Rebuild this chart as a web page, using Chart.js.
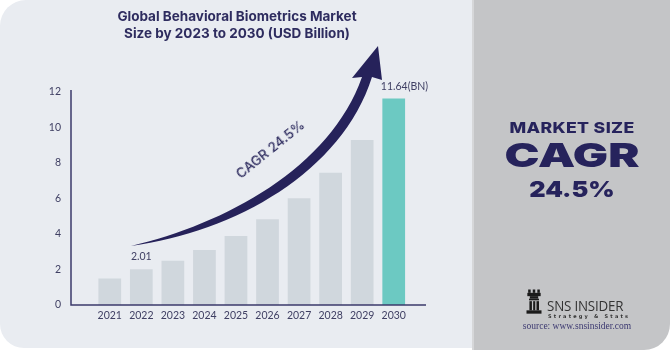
<!DOCTYPE html>
<html>
<head>
<meta charset="utf-8">
<script src="https://cdn.jsdelivr.net/npm/chart.js@4"></script>
<style>
  html, body { margin: 0; padding: 0; background: #ffffff; }
  #wrap { position: relative; width: 670px; height: 350px; overflow: hidden; background: #ffffff; }
  #leftPanel { position: absolute; left: 0; top: 0; width: 472px; height: 348px; background: #e9ecf1; border-radius: 26px 0 0 24px; }
  #divider { position: absolute; left: 472px; top: 0; width: 2px; height: 350px; background: #d6d7d9; }
  #rightPanel { position: absolute; left: 474px; top: 0; width: 196px; height: 350px; background: #c4c5c7; border-radius: 0 0 26px 0; }
  #chart { position: absolute; left: 0; top: 0; }
  .title { position: absolute; left: 0; width: 474px; text-align: center; font-family: Inter, sans-serif; font-weight: 700; font-size: 13.5px; color: #2e2c5f; line-height: 17px; top: 8px; }
  .side { position: absolute; left: 474px; width: 196px; text-align: center; font-family: Inter, sans-serif; color: #26235c; white-space: nowrap; }
  #mk { top: 118px; font-size: 15px; font-weight: 800; letter-spacing: 0.3px; transform: scaleX(1.18); }
  #cg { top: 135px; font-size: 33px; font-weight: 900; line-height: 40px; transform: scaleX(1.42); }
  #pc { top: 176px; font-size: 22px; font-weight: 900; transform: scaleX(1.15); }
  #cagrText { position: absolute; left: 220px; top: 141px; width: 100px; text-align: center; font-family: Inter, sans-serif; font-size: 13.5px; font-weight: 500; color: #2e2c5f; transform: rotate(-39deg); white-space: nowrap; }
  #logoName { position: absolute; left: 547px; top: 296px; font-family: "Open Sans", sans-serif; font-size: 14.5px; color: #333333; letter-spacing: -0.2px; transform: scaleX(0.92); transform-origin: left; }
  #logoSub { position: absolute; left: 548px; top: 313px; font-family: "DejaVu Sans", sans-serif; font-size: 5px; font-weight: 700; color: #333333; letter-spacing: 2.2px; }
  #source { position: absolute; left: 474px; width: 196px; top: 321px; text-align: center; font-family: "Liberation Serif", serif; font-size: 9.5px; color: #3b3870; padding-left: 10px; box-sizing: border-box; }
  #rook { position: absolute; left: 524px; top: 288px; }
</style>
</head>
<body>
<div id="wrap">
  <div id="leftPanel"></div>
  <div id="divider"></div>
  <div id="rightPanel"></div>
  <canvas id="chart" width="670" height="350"></canvas>
  <div class="title">Global Behavioral Biometrics Market<br>Size by 2023 to 2030 (USD Billion)</div>
  <div id="cagrText">CAGR 24.5%</div>
  <div class="side" id="mk">MARKET SIZE</div>
  <div class="side" id="cg">CAGR</div>
  <div class="side" id="pc">24.5%</div>
  <svg id="rook" width="20" height="28" viewBox="0 0 24 30">
    <rect x="5" y="0" width="3" height="4" fill="#1b1b1b"/>
    <rect x="10.5" y="0" width="3" height="4" fill="#1b1b1b"/>
    <rect x="16" y="0" width="3" height="4" fill="#1b1b1b"/>
    <rect x="4" y="4" width="16" height="4" fill="#1b1b1b"/>
    <rect x="7" y="8" width="10" height="3" fill="#1b1b1b"/>
    <rect x="6" y="11" width="12" height="2" fill="#1b1b1b"/>
    <rect x="6.5" y="14" width="3" height="11" fill="#1b1b1b"/>
    <rect x="11" y="14" width="2.5" height="11" fill="#1b1b1b"/>
    <rect x="15" y="14" width="3" height="11" fill="#1b1b1b"/>
    <rect x="3" y="25" width="18" height="4" fill="#1b1b1b"/>
  </svg>
  <div id="logoName">SNS INSIDER</div>
  <div id="logoSub">Strategy &amp; Stats</div>
  <div id="source">source: www.snsinsider.com</div>
</div>
<script>
// data
var years = ['2021', '2022', '2023', '2024', '2025', '2026', '2027', '2028', '2029', '2030'];
var marketSize = [1.50, 2.01, 2.50, 3.10, 3.89, 4.83, 6.01, 7.45, 9.30, 11.64];
var valueLabels = ['', '2.01', '', '', '', '', '', '', '', '11.64(BN)'];
var yTicks = [0, 2, 4, 6, 8, 10, 12];

var grayBar = '#d0d7dd';
var tealBar = '#6cc9c2';

// axis lines, value labels and the growth arrow
var decorPlugin = {
    id: 'decor',
    afterDatasetsDraw: function(chart) {
        var ctx = chart.ctx;
        var area = chart.chartArea;
        var y = chart.scales.y;
        var zero = y.getPixelForValue(0);
        var left = area.left - 23;

        ctx.save();
        ctx.strokeStyle = '#3b3a6b';
        ctx.lineWidth = 1.5;
        ctx.beginPath();
        ctx.moveTo(left, y.getPixelForValue(12) - 2);
        ctx.lineTo(left, zero);
        ctx.lineTo(area.right + 16.5, zero);
        ctx.stroke();

        // labels above bars; the long one starts at the bar's left edge
        ctx.fillStyle = '#3f3f63';
        ctx.font = '10.5px Lato, sans-serif';
        ctx.textBaseline = 'bottom';
        var meta = chart.getDatasetMeta(0);
        valueLabels.forEach(function(txt, i) {
            if (!txt) return;
            var bar = meta.data[i];
            if (txt.length > 5) {
                ctx.textAlign = 'left';
                ctx.fillText(txt, bar.x - bar.width / 2 - 1.5, bar.y - 7);
            } else {
                ctx.textAlign = 'center';
                ctx.fillText(txt, bar.x, bar.y - 7);
            }
        });

        // curved arrow
        ctx.fillStyle = '#26225a';
        ctx.beginPath();
        ctx.moveTo(131, 246);
        ctx.bezierCurveTo(225, 224, 330, 168, 362, 77);
        ctx.lineTo(352, 78);
        ctx.lineTo(378, 46);
        ctx.lineTo(382, 80);
        ctx.lineTo(372, 77);
        ctx.bezierCurveTo(342, 172, 235, 232, 131, 246);
        ctx.closePath();
        ctx.fill();
        ctx.restore();
    }
};

var ctx = document.getElementById('chart').getContext('2d');
var chart = new Chart(ctx, {
    type: 'bar',
    data: {
        labels: years,
        datasets: [{
            data: marketSize,
            backgroundColor: years.map(function(y, i) { return i === years.length - 1 ? tealBar : grayBar; }),
            borderWidth: 0,
            categoryPercentage: 1,
            barPercentage: 0.72
        }]
    },
    options: {
        responsive: false,
        animation: false,
        layout: { padding: { left: 0, top: 92, right: 260.5, bottom: 0 } },
        plugins: {
            legend: { display: false },
            tooltip: { enabled: false }
        },
        scales: {
            x: {
                grid: { display: false, drawTicks: false },
                border: { display: false },
                ticks: { color: '#3f3f63', font: { family: 'Lato', size: 10.5 }, padding: 4, maxRotation: 0 },
                afterFit: function(scale) { scale.height = 45; }
            },
            y: {
                min: 0,
                max: 12,
                afterBuildTicks: function(scale) { scale.ticks = yTicks.map(function(v) { return { value: v }; }); },
                grid: { display: false, drawTicks: false },
                border: { display: false },
                ticks: { color: '#3f3f63', font: { family: 'Lato', size: 10.5 }, padding: 33 },
                afterFit: function(scale) { scale.width = 94; }
            }
        }
    },
    plugins: [decorPlugin]
});
</script>
</body>
</html>
